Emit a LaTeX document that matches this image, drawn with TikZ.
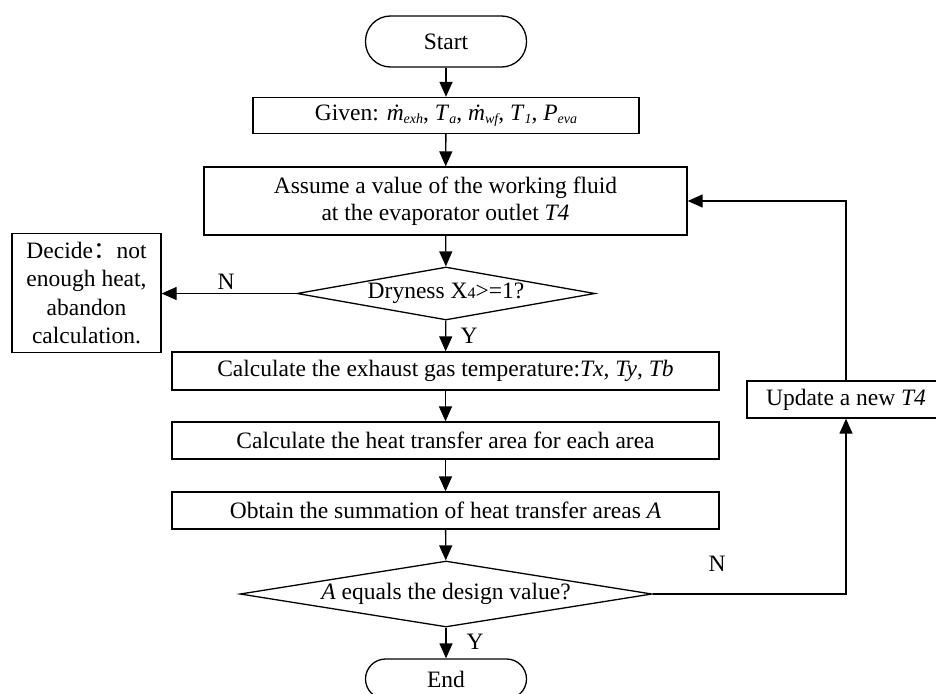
\documentclass[tikz,border=0pt]{standalone}
\usepackage{fontspec}
\setmainfont{Liberation Serif}
\newfontfamily\cjkfont{Noto Sans CJK SC}
\usetikzlibrary{shapes.geometric,arrows.meta}
\begin{document}
\begin{tikzpicture}[x=1pt,y=-1pt,
  every node/.style={font=\fontsize{23.5}{27}\selectfont},
  box/.style={draw,line width=1.3pt,inner sep=0pt,minimum height=37pt},
  term/.style={draw,line width=1.3pt,rounded corners=25pt,minimum width=161pt,minimum height=51pt,inner sep=0pt},
  dec/.style={draw,diamond,line width=1.3pt,inner sep=0pt},
  arr/.style={line width=1.3pt,-{Triangle[length=15pt,width=13pt]}},
  lbl/.style={inner sep=0pt},
  sub/.style={}]
\useasboundingbox (0,0) rectangle (936,693);
\clip (0,0) rectangle (936,693);

\node[term] (start) at (446,41.5) {Start};
\node[box,minimum width=386pt,minimum height=36pt] (given) at (446,115.5)
  {Given: \textit{\.m}{\fontsize{14}{14}\selectfont\textit{\raisebox{-3pt}{exh}}}, \textit{T}{\fontsize{14}{14}\selectfont\textit{\raisebox{-3pt}{a}}}, \textit{\.m}{\fontsize{14}{14}\selectfont\textit{\raisebox{-3pt}{wf}}}, \textit{T}{\fontsize{14}{14}\selectfont\textit{\raisebox{-3pt}{1}}}, \textit{P}{\fontsize{14}{14}\selectfont\textit{\raisebox{-3pt}{eva}}}};
\node[box,minimum width=483pt,minimum height=68pt,align=center] (assume) at (445.5,201)
  {Assume a value of the working fluid\\at the evaporator outlet \textit{T4}};
\node[dec,aspect=5.6,minimum width=298pt,minimum height=53pt] (d1) at (446,293.5) {Dryness X{\fontsize{16}{16}\selectfont 4}>=1?};
\node[box,minimum width=149pt,minimum height=119pt,align=center,font=\fontsize{23.5}{28.5}\selectfont] (decide) at (86.5,293)
  {Decide{\cjkfont ：}not\\enough heat,\\abandon\\calculation.};
\node[box,minimum width=547pt,minimum height=38pt] (c1) at (445.5,371)
  {Calculate the exhaust gas temperature:\textit{Tx}, \textit{Ty}, \textit{Tb}};
\node[box,minimum width=547pt] (c2) at (445.5,440.5)
  {Calculate the heat transfer area for each area};
\node[box,minimum width=547pt] (c3) at (445.5,510.5)
  {Obtain the summation of heat transfer areas \textit{A}};
\node[dec,aspect=6.24,minimum width=412pt,minimum height=66pt] (d2) at (446,594) {\textit{A} equals the design value?};
\node[term,rounded corners=20pt,minimum height=40pt] (end) at (446,679) {End};
\node[box,minimum width=198pt] (upd) at (846,399.5) {Update a new \textit{T4}};

\node[lbl] (n1) at (226,282) {N};
\node[lbl] (y1) at (469,336) {Y};
\node[lbl] (y2) at (475,642) {Y};
\node[lbl] (n2) at (717,564) {N};

\draw[arr] (start) -- (given);
\draw[arr] (given) -- (assume);
\draw[arr] (assume) -- (d1);
\draw[arr] (d1.west) -- (d1.west -| decide.east);
\draw[arr] (d1) -- (c1);
\draw[arr] (c1) -- (c2);
\draw[arr] (c2) -- (c3);
\draw[arr] (c3) -- (d2);
\draw[arr] (d2) -- (end);
\draw[arr] (d2.east) -| (upd.south);
\draw[arr] (upd.north) |- (assume.east);
\end{tikzpicture}
\end{document}
